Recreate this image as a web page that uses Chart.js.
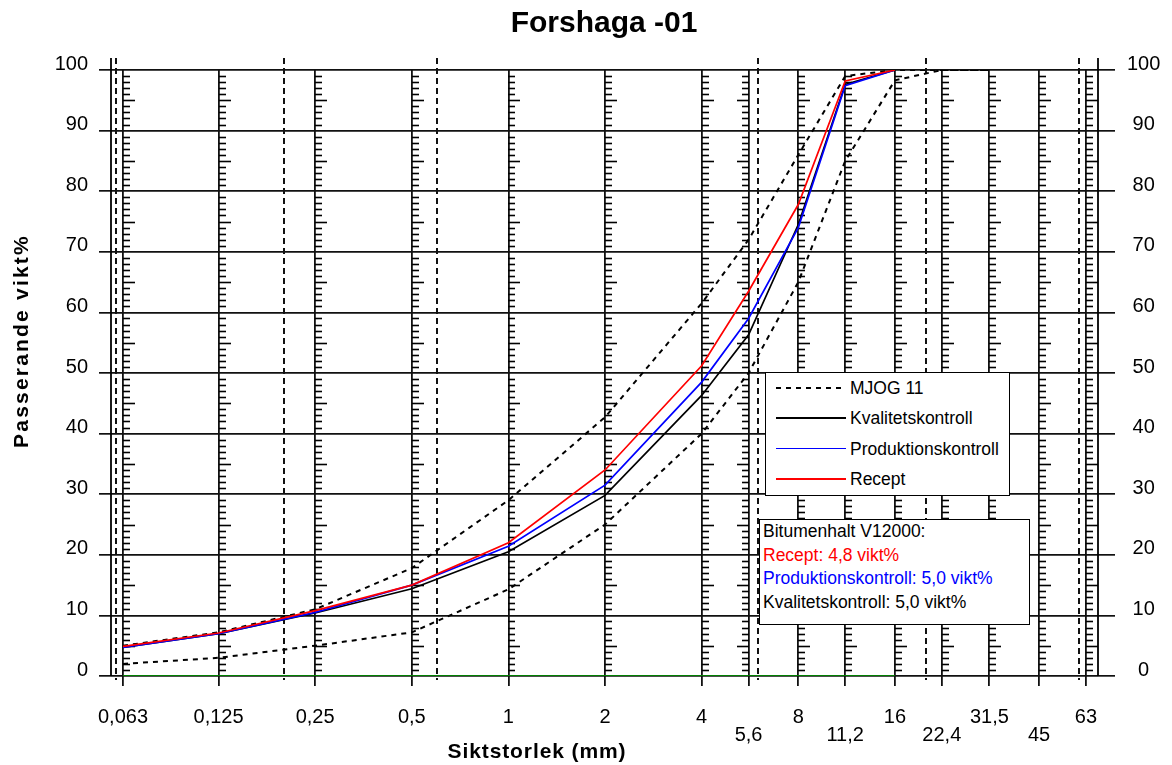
<!DOCTYPE html>
<html>
<head>
<meta charset="utf-8">
<script src="https://cdn.jsdelivr.net/npm/chart.js@4/dist/chart.umd.min.js"></script>
<style>
  html, body { margin: 0; padding: 0; background: #fff; }
  #wrap { position: relative; width: 1172px; height: 765px; overflow: hidden;
          font-family: "Liberation Sans", Arial, sans-serif; color: #000; }
  #c { position: absolute; left: 0; top: 0; }
  #title { position: absolute; left: 404px; top: 7px; width: 400px; text-align: center;
           font-size: 30px; font-weight: bold; line-height: 30px; }
  #xtitle { position: absolute; left: 337px; top: 740px; width: 400px; text-align: center;
            font-size: 21px; font-weight: bold; line-height: 21px; letter-spacing: 0.9px; }
  #ytitle { position: absolute; left: -129px; top: 330px; width: 300px; height: 22px; text-align: center;
            font-size: 21px; font-weight: bold; line-height: 22px; letter-spacing: 2.2px;
            transform: rotate(-90deg); }
  #legend { position: absolute; left: 765px; top: 372px; width: 245px; height: 124px; box-sizing: border-box;
            border: 1px solid #000; background: #fff; font-size: 17.5px; }
  .lrow { position: relative; height: 30.4px; line-height: 30.4px; }
  .lsample { position: absolute; left: 10px; top: 14px; width: 70px; height: 2px; }
  .ltext { position: absolute; left: 84px; top: 0; white-space: nowrap; }
  #bitumen { position: absolute; left: 759px; top: 519px; width: 271px; height: 106px; box-sizing: border-box;
             border: 1px solid #000; background: #fff; font-size: 17.5px; padding-left: 3px; }
  .brow { height: 23.7px; line-height: 23.7px; white-space: nowrap; }
</style>
</head>
<body>
<div id="wrap">
  <canvas id="c" width="1172" height="765"></canvas>
  <div id="title">Forshaga -01</div>
  <div id="ytitle">Passerande vikt%</div>
  <div id="xtitle">Siktstorlek (mm)</div>
  <div id="legend"></div>
  <div id="bitumen"></div>
</div>
<script>
// ---------------- data ----------------
const sieves = [0.063, 0.125, 0.25, 0.5, 1, 2, 4, 5.6, 8, 11.2, 16, 22.4, 31.5, 45, 63];
const sieveLabels = ['0,063', '0,125', '0,25', '0,5', '1', '2', '4', '5,6', '8', '11,2', '16', '22,4', '31,5', '45', '63'];
const secondRowSieves = [5.6, 11.2, 22.4, 45];
const leftTickSieves = [5.6];
const boundarySizes = [0.06, 0.2, 0.6, 6, 20, 60];

const curveSieves = [0.063, 0.125, 0.25, 0.5, 1, 2, 4, 5.6, 8, 11.2, 16];
const recept      = [4.9, 7.1, 10.8, 15.0, 22.0, 34.0, 51.2, 63.5, 77.8, 98.2, 100];
const produktion  = [4.7, 7.0, 10.5, 15.0, 21.4, 31.5, 48.5, 59.0, 74.0, 97.4, 100];
const kvalitet    = [4.7, 7.0, 10.4, 14.4, 20.5, 29.8, 46.3, 56.3, 74.5, 97.6, 100];
const zeroLine    = [0, 0, 0, 0, 0, 0, 0, 0, 0, 0, 0];

const mjogSieves = [0.063, 0.125, 0.25, 0.5, 1, 2, 4, 5.6, 8, 11.2, 16, 22.4, 31.5];
const mjogLower  = [2.0, 3.0, 5.0, 7.2, 14.3, 25.0, 40.0, 50.0, 65.0, 85.0, 98.3, 100, 100];
const mjogUpper  = [5.0, 7.2, 11.0, 17.8, 29.0, 42.7, 61.5, 72.0, 86.0, 99.0, 100, 100, 100];

const bitumenTitle = 'Bitumenhalt V12000:';
const bitumenNames  = ['Recept', 'Produktionskontroll', 'Kvalitetskontroll'];
const bitumenValues = [4.8, 5.0, 5.0];

// ---------------- chart ----------------
const RED = '#ff0000', BLUE = '#0000ff', BLACK = '#000000', GREEN = '#008000';
const pts = (xs, ys) => xs.map((x, i) => ({ x: x, y: ys[i] }));

const dsMjogLower = { label: 'MJOG 11', data: pts(mjogSieves, mjogLower), borderColor: BLACK, borderWidth: 2, borderDash: [5, 5], order: 3 };
const dsMjogUpper = { label: 'MJOG 11 (övre)', data: pts(mjogSieves, mjogUpper), borderColor: BLACK, borderWidth: 2, borderDash: [5, 5], order: 3 };
const dsKval = { label: 'Kvalitetskontroll', data: pts(curveSieves, kvalitet), borderColor: BLACK, borderWidth: 1.7, order: 2 };
const dsProd = { label: 'Produktionskontroll', data: pts(curveSieves, produktion), borderColor: BLUE, borderWidth: 1.7, order: 1 };
const dsRec  = { label: 'Recept', data: pts(curveSieves, recept), borderColor: RED, borderWidth: 1.7, order: 0 };
const dsZero = { label: 'noll', data: pts(curveSieves, zeroLine), borderColor: GREEN, borderWidth: 2, order: 4 };

const datasets = [dsMjogLower, dsMjogUpper, dsKval, dsProd, dsRec, dsZero].map(d => Object.assign({
  showLine: true, pointRadius: 0, pointHoverRadius: 0, tension: 0, fill: false, yAxisID: 'y'
}, d));

const decor = {
  id: 'decor',
  beforeDatasetsDraw(chart) {
    const { ctx, chartArea: a, scales: { x, y } } = chart;
    ctx.save();
    // minor ticks on sieve lines
    ctx.strokeStyle = '#000';
    ctx.lineWidth = 1.6;
    for (const s of sieves) {
      const px = Math.round(x.getPixelForValue(s));
      const dir = leftTickSieves.includes(s) ? -1 : 1;
      for (let v = 1; v < 100; v++) {
        if (v % 10 === 0) continue;
        const py = Math.round(y.getPixelForValue(v)) + 0.5;
        const len = v % 5 === 0 ? 12 : 7;
        ctx.beginPath();
        ctx.moveTo(px, py);
        ctx.lineTo(px + dir * len, py);
        ctx.stroke();
      }
    }
    // dashed class boundaries
    ctx.setLineDash([6, 4]);
    ctx.lineWidth = 2;
    ctx.strokeStyle = '#111';
    for (const b of boundarySizes) {
      const px = Math.round(x.getPixelForValue(b));
      ctx.beginPath();
      ctx.moveTo(px, a.top - 12);
      ctx.lineTo(px, a.bottom + 4);
      ctx.stroke();
    }
    ctx.setLineDash([]);
    // frame verticals extending above the plot
    ctx.lineWidth = 1.8;
    ctx.strokeStyle = '#000';
    for (const px of [a.left, a.right]) {
      ctx.beginPath();
      ctx.moveTo(px, a.top - 12);
      ctx.lineTo(px, a.bottom);
      ctx.stroke();
    }
    ctx.restore();
  }
};

Chart.defaults.font.family = "'Liberation Sans', Arial, sans-serif";
Chart.defaults.color = '#000';

new Chart(document.getElementById('c'), {
  type: 'scatter',
  data: { datasets: datasets },
  options: {
    responsive: false,
    devicePixelRatio: 1,
    animation: false,
    layout: { padding: { top: 70, left: 0, right: 0, bottom: 0 } },
    plugins: { legend: { display: false }, title: { display: false }, tooltip: { enabled: false } },
    scales: {
      x: {
        type: 'logarithmic',
        position: 'bottom',
        min: 0.0578,
        max: 68.67,
        afterBuildTicks: (s) => { s.ticks = sieves.map(v => ({ value: v })); },
        afterFit: (s) => { s.height = 89; },
        grid: { color: '#111', lineWidth: 1.8, tickLength: 10, drawTicks: true },
        border: { display: false },
        ticks: {
          autoSkip: false, maxRotation: 0, minRotation: 0, padding: 23,
          font: { size: 20, lineHeight: 0.875 },
          callback: (value) => {
            const i = sieves.indexOf(value);
            const lab = i >= 0 ? sieveLabels[i] : '';
            return secondRowSieves.includes(value) ? ['', lab] : lab;
          }
        }
      },
      y: {
        type: 'linear',
        position: 'left',
        min: 0, max: 100,
        afterFit: (s) => { s.width = 111; },
        grid: { color: '#111', lineWidth: 1.7, tickLength: 12 },
        border: { display: false },
        ticks: { stepSize: 10, padding: 11, labelOffset: -6, font: { size: 20 } }
      },
      y2: {
        type: 'linear',
        position: 'right',
        min: 0, max: 100,
        afterFit: (s) => { s.width = 74; },
        grid: { color: '#111', lineWidth: 1.7, tickLength: 17, drawOnChartArea: false },
        border: { display: false },
        ticks: { stepSize: 10, padding: 12, labelOffset: -6, crossAlign: 'center', font: { size: 20 } }
      }
    }
  },
  plugins: [decor]
});

// ---------------- legend (HTML) ----------------
const legendItems = [dsMjogLower, dsKval, dsProd, dsRec];
const legendEl = document.getElementById('legend');
legendItems.forEach(d => {
  const row = document.createElement('div');
  row.className = 'lrow';
  const sample = document.createElement('div');
  sample.className = 'lsample';
  if (d.borderDash) {
    sample.style.background = 'repeating-linear-gradient(90deg, ' + d.borderColor + ' 0 5px, transparent 5px 10px)';
  } else {
    sample.style.background = d.borderColor;
    sample.style.height = '1.7px';
  }
  const txt = document.createElement('div');
  txt.className = 'ltext';
  txt.textContent = d.label;
  row.appendChild(sample);
  row.appendChild(txt);
  legendEl.appendChild(row);
});

// ---------------- bitumen box (HTML) ----------------
const bitEl = document.getElementById('bitumen');
const bitColors = { 'Recept': RED, 'Produktionskontroll': BLUE, 'Kvalitetskontroll': BLACK };
const head = document.createElement('div');
head.className = 'brow';
head.textContent = bitumenTitle;
bitEl.appendChild(head);
bitumenNames.forEach((n, i) => {
  const r = document.createElement('div');
  r.className = 'brow';
  r.style.color = bitColors[n];
  r.textContent = n + ': ' + bitumenValues[i].toFixed(1).replace('.', ',') + ' vikt%';
  bitEl.appendChild(r);
});
</script>
</body>
</html>
